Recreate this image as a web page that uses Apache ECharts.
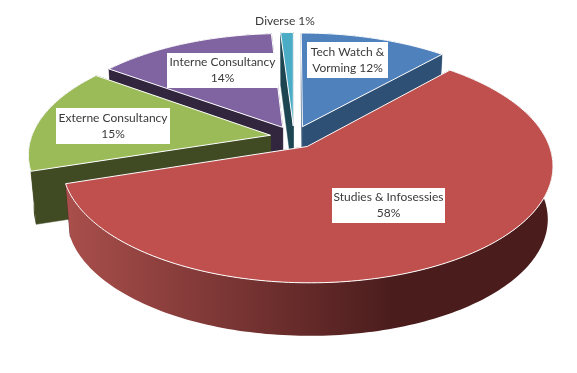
<!DOCTYPE html>
<html>
<head>
<meta charset="utf-8">
<title>pie</title>
<script src="https://cdn.jsdelivr.net/npm/echarts@6/dist/echarts.min.js"></script>
<style>
html,body{margin:0;padding:0;background:#fff;}
#main{width:577px;height:373px;}
</style>
</head>
<body>
<div id="main"></div>
<script>
// chart data, clockwise from 12 o'clock
var names=['Tech Watch &\nVorming','Studies & Infosessies','Externe Consultancy','Interne Consultancy','Diverse'];
var values=[11.6,58.4,15,14,1];
var topColors=['#4f81bd','#c0504d','#9bbb59','#8064a2','#4bacc6'];
var wallColors=['#2f5075','#4a1e1e','#404a23','#32263f','#1d4652'];
var drawOrder=[4,3,0,2,1]; // back to front

// label boxes: left, top, width, height
var labelBoxes=[[307,42,81,36],[332,188,113,35],[56,108,114,36],[167,53,111,35],[255,12,60,19]];

// fake 3d layout
var cx=294,cy=137,rx=239,ry=111.5,persp=0.158,explode=0.1,depth=53,taper=0.98;

var total=0;
for(var i=0;i<values.length;i++){total+=values[i];}
var starts=[],acc=0;
for(var i=0;i<values.length;i++){
	starts.push(acc/total*Math.PI*2);
	acc+=values[i];
}

function project(u,v){
	var k=1/(1-persp*v);
	return [cx+rx*u*k,cy+ry*v*k];
}
function lower(p){
	return [cx+(p[0]-cx)*taper,p[1]+depth];
}

function renderSlice(params,api){
	var idx=api.value(0);
	var a0=starts[idx];
	var a1=a0+api.value(1)/total*Math.PI*2;
	var mid=(a0+a1)/2;
	var ou=explode*Math.sin(mid),ov=-explode*Math.cos(mid);
	var apex=project(ou,ov);
	var arc=[];
	var steps=Math.max(4,Math.round((a1-a0)/0.02));
	for(var s=0;s<=steps;s++){
		var a=a0+(a1-a0)*s/steps;
		arc.push(project(ou+Math.sin(a),ov-Math.cos(a)));
	}
	var children=[];
	var wall=wallColors[idx];
	// cut walls
	var ends=[arc[0],arc[arc.length-1]];
	for(var j=0;j<2;j++){
		children.push({type:'polygon',shape:{points:[apex,ends[j],lower(ends[j]),lower(apex)]},
			style:{fill:wall,stroke:wall,lineWidth:0.5}});
	}
	// rim wall
	var rim=arc.slice();
	for(var s=arc.length-1;s>=0;s--){rim.push(lower(arc[s]));}
	var rimFill=wall;
	if(idx==1){
		rimFill=new echarts.graphic.LinearGradient(70,0,396,0,[
			{offset:0,color:'#a84e4b'},
			{offset:1,color:'#4a1c1c'}
		],true);
	}
	children.push({type:'polygon',shape:{points:rim},style:{fill:rimFill}});
	// top face
	var face=[apex].concat(arc);
	children.push({type:'polygon',shape:{points:face},
		style:{fill:topColors[idx],stroke:'#fff',lineWidth:1,lineJoin:'round'}});
	return {type:'group',children:children};
}

function renderLabel(params,api){
	var idx=api.value(0);
	var box=labelBoxes[idx];
	var text=names[idx];
	var pct=Math.round(api.value(1)/total*100)+'%';
	if(idx==0||idx==4){text+=' '+pct;}else{text+='\n'+pct;}
	return {type:'group',children:[
		{type:'rect',shape:{x:box[0],y:box[1],width:box[2],height:box[3]},style:{fill:'#fff'}},
		{type:'text',style:{x:box[0]+box[2]/2,y:box[1]+box[3]/2,text:text,fill:'#3a3a3a',
			font:'12px Lato',align:'center',verticalAlign:'middle',lineHeight:16}}
	]};
}

var sliceData=[],labelData=[];
for(var i=0;i<drawOrder.length;i++){
	sliceData.push([drawOrder[i],values[drawOrder[i]]]);
	labelData.push([i,values[i]]);
}

var myChart=echarts.init(document.getElementById('main'));
myChart.setOption({
	backgroundColor:'#fff',
	animation:false,
	series:[
		{type:'custom',coordinateSystem:'none',silent:true,z:2,renderItem:renderSlice,data:sliceData},
		{type:'custom',coordinateSystem:'none',silent:true,z:3,renderItem:renderLabel,data:labelData}
	]
});
</script>
</body>
</html>
